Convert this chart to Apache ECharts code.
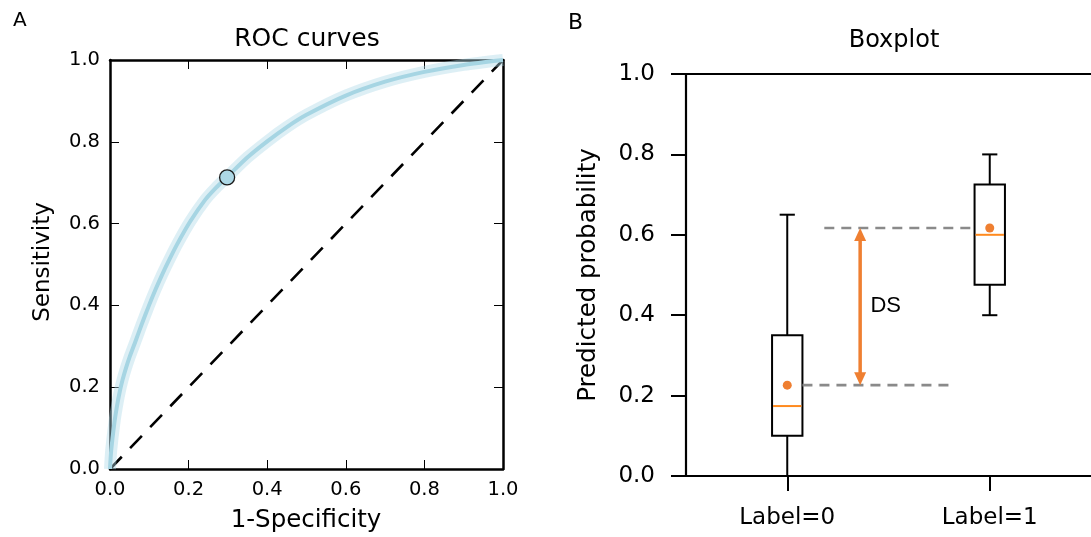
<!DOCTYPE html>
<html>
<head>
<meta charset="utf-8">
<script src="https://cdn.jsdelivr.net/npm/echarts@6/dist/echarts.min.js"></script>
<style>
html,body{margin:0;padding:0;background:#fff;}
#chart{width:1091px;height:537px;}
</style>
</head>
<body>
<div id="chart"></div>
<script>
// ---------- Panel A: ROC curve data ----------
const rocFpr = [0, 0.003, 0.011, 0.018, 0.025, 0.032, 0.04, 0.05, 0.064, 0.08, 0.098, 0.115, 0.133, 0.15, 0.17, 0.204, 0.242, 0.27, 0.298, 0.35, 0.4, 0.45, 0.5, 0.6, 0.7, 0.8, 0.9, 1.0];
const rocTpr = [0, 0.045, 0.112, 0.155, 0.19, 0.218, 0.245, 0.274, 0.31, 0.352, 0.397, 0.437, 0.476, 0.51, 0.548, 0.605, 0.658, 0.688, 0.714, 0.762, 0.801, 0.836, 0.866, 0.913, 0.947, 0.971, 0.988, 1.0];
const cutoffPoint = [0.298, 0.713];
const chanceFpr = [0, 1];
const chanceTpr = [0, 1];
const unitTicks = [0, 0.2, 0.4, 0.6, 0.8, 1.0];

// ---------- Panel B: boxplot data ----------
const boxCategories = ['Label=0', 'Label=1'];
const boxPositions = [1, 2];
const whiskerLow = [0.0, 0.40];
const q1 = [0.10, 0.476];
const median = [0.174, 0.600];
const q3 = [0.350, 0.725];
const whiskerHigh = [0.650, 0.800];
const means = [0.226, 0.617];
// DS annotation (data units of the boxplot panel)
const lowerDashSpan = [1.075, 1.805];
const upperDashSpan = [1.183, 1.925];
const dsArrowX = 1.36;
const dsText = 'DS';
const dsTextPos = [1.486, 0.423];

const FONT = 'DejaVu Sans';
const ORANGE = '#ef7f31';
const MEDIAN_ORANGE = '#ff8a1e';
const BOX_WIDTH = 0.15;

const rocData = rocFpr.map((x, i) => [x, rocTpr[i]]);
const chanceData = chanceFpr.map((x, i) => [x, chanceTpr[i]]);
const boxData = boxPositions.map((p, i) => [p, whiskerLow[i], q1[i], median[i], q3[i], whiskerHigh[i], means[i]]);

function rocAxis(extra, labelMargin) {
  return Object.assign({
    type: 'value', gridIndex: 0, min: unitTicks[0], max: unitTicks[unitTicks.length - 1], interval: 0.2,
    splitLine: {show: false},
    axisLine: {show: true, onZero: false, lineStyle: {color: '#000', width: 2.5}},
    axisTick: {show: true, inside: true, length: 9, lineStyle: {color: '#000', width: 1}},
    axisLabel: labelMargin == null ? {show: false} :
      {show: true, color: '#000', fontFamily: FONT, fontSize: 19.5, margin: labelMargin, formatter: v => v.toFixed(1)}
  }, extra);
}

const chart = echarts.init(document.getElementById('chart'), null, {renderer: 'canvas'});

const option = {
  backgroundColor: '#fff',
  animation: false,
  grid: [
    {left: 110, top: 60, width: 393, height: 409},
    {left: 686, top: 74, width: 414, height: 402}
  ],
  xAxis: [
    rocAxis({position: 'bottom'}, 11),
    rocAxis({position: 'top'}, null),
    {
      type: 'category', gridIndex: 1, data: boxCategories, position: 'bottom', boundaryGap: true,
      axisLine: {show: true, onZero: false, lineStyle: {color: '#000', width: 2.2}},
      axisTick: {show: true, alignWithLabel: true, inside: false, length: 15, lineStyle: {color: '#000', width: 2}},
      axisLabel: {color: '#000', fontFamily: FONT, fontSize: 23, margin: 31},
      splitLine: {show: false}
    },
    {
      type: 'value', gridIndex: 1, min: 0.5, max: 2.5, position: 'top',
      axisLine: {show: true, onZero: false, lineStyle: {color: '#000', width: 2.2}},
      axisTick: {show: false}, axisLabel: {show: false}, splitLine: {show: false}
    }
  ],
  yAxis: [
    rocAxis({position: 'left'}, 10),
    rocAxis({position: 'right'}, null),
    {
      type: 'value', gridIndex: 1, min: 0, max: 1, interval: 0.2, position: 'left',
      axisLine: {show: true, onZero: false, lineStyle: {color: '#000', width: 2.2}},
      axisTick: {show: true, inside: false, length: 15, lineStyle: {color: '#000', width: 2}},
      axisLabel: {color: '#000', fontFamily: FONT, fontSize: 23, margin: 31, formatter: v => v.toFixed(1)},
      splitLine: {show: false}
    }
  ],
  graphic: [
    {type: 'text', x: 13, y: 21, style: {text: 'A', font: '20px "DejaVu Sans"', fill: '#000', align: 'left', verticalAlign: 'middle'}},
    {type: 'text', x: 307, y: 39, style: {text: 'ROC curves', font: '25px "DejaVu Sans"', fill: '#000', align: 'center', verticalAlign: 'middle'}},
    {type: 'text', x: 306, y: 521, style: {text: '1-Specificity', font: '24.5px "DejaVu Sans"', fill: '#000', align: 'center', verticalAlign: 'middle'}},
    {type: 'text', x: 43, y: 262, rotation: Math.PI / 2, style: {text: 'Sensitivity', font: '23px "DejaVu Sans"', fill: '#000', align: 'center', verticalAlign: 'middle'}},
    {type: 'text', x: 568, y: 23, style: {text: 'B', font: '22px "DejaVu Sans"', fill: '#000', align: 'left', verticalAlign: 'middle'}},
    {type: 'text', x: 894, y: 41, style: {text: 'Boxplot', font: '24px "DejaVu Sans"', fill: '#000', align: 'center', verticalAlign: 'middle'}},
    {type: 'text', x: 589, y: 275, rotation: Math.PI / 2, style: {text: 'Predicted probability', font: '24.5px "DejaVu Sans"', fill: '#000', align: 'center', verticalAlign: 'middle'}}
  ],
  series: [
    {
      name: 'chance', type: 'line', xAxisIndex: 0, yAxisIndex: 0, data: chanceData,
      showSymbol: false, silent: true,
      lineStyle: {color: '#000', width: 2.6, type: [17, 12]}
    },
    {
      name: 'roc band', type: 'line', xAxisIndex: 0, yAxisIndex: 0, data: rocData,
      showSymbol: false, silent: true, smooth: 0.25,
      lineStyle: {color: '#add8e6', width: 12, opacity: 0.42, join: 'round'}
    },
    {
      name: 'roc', type: 'line', xAxisIndex: 0, yAxisIndex: 0, data: rocData,
      showSymbol: false, silent: true, smooth: 0.25,
      lineStyle: {color: '#a6d5e3', width: 4, join: 'round'}
    },
    {
      name: 'cutoff', type: 'scatter', xAxisIndex: 0, yAxisIndex: 0, data: [cutoffPoint],
      symbolSize: 15, z: 5,
      itemStyle: {color: '#add8e6', borderColor: '#1a1a1a', borderWidth: 1.3, opacity: 1}
    },
    {
      name: 'boxes', type: 'custom', xAxisIndex: 3, yAxisIndex: 2, data: boxData,
      encode: {x: 0, y: [1, 2, 3, 4, 5, 6]},
      silent: true,
      renderItem: function (params, api) {
        const x = api.value(0);
        const cx = api.coord([x, 0])[0];
        const xl = api.coord([x - BOX_WIDTH / 2, 0])[0];
        const xr = api.coord([x + BOX_WIDTH / 2, 0])[0];
        const cl = api.coord([x - BOX_WIDTH / 4, 0])[0];
        const cr = api.coord([x + BOX_WIDTH / 4, 0])[0];
        const yv = i => api.coord([x, api.value(i)])[1];
        const yLo = yv(1), yQ1 = yv(2), yMed = yv(3), yQ3 = yv(4), yHi = yv(5), yMean = yv(6);
        const st = {stroke: '#000', lineWidth: 2, fill: null};
        return {
          type: 'group',
          children: [
            {type: 'line', shape: {x1: cx, y1: yLo, x2: cx, y2: yQ1}, style: st},
            {type: 'line', shape: {x1: cx, y1: yQ3, x2: cx, y2: yHi}, style: st},
            {type: 'line', shape: {x1: cl, y1: yLo, x2: cr, y2: yLo}, style: st},
            {type: 'line', shape: {x1: cl, y1: yHi, x2: cr, y2: yHi}, style: st},
            {type: 'rect', shape: {x: xl, y: yQ3, width: xr - xl, height: yQ1 - yQ3}, style: {stroke: '#000', lineWidth: 2, fill: 'rgba(0,0,0,0)'}},
            {type: 'line', shape: {x1: xl + 1, y1: yMed, x2: xr - 1, y2: yMed}, style: {stroke: MEDIAN_ORANGE, lineWidth: 2}},
            {type: 'circle', shape: {cx: cx, cy: yMean, r: 4.5}, style: {fill: ORANGE}}
          ]
        };
      }
    },
    {
      name: 'ds annotation', type: 'custom', xAxisIndex: 3, yAxisIndex: 2, data: [[dsArrowX, means[0], means[1]]],
      silent: true, z: 3,
      renderItem: function (params, api) {
        const dash = {stroke: '#8a8a8a', lineWidth: 2.6, lineDash: [10, 7]};
        const lo0 = api.coord([lowerDashSpan[0], means[0]]);
        const lo1 = api.coord([lowerDashSpan[1], means[0]]);
        const up0 = api.coord([upperDashSpan[0], means[1]]);
        const up1 = api.coord([upperDashSpan[1], means[1]]);
        const aLo = api.coord([api.value(0), api.value(1)]);
        const aHi = api.coord([api.value(0), api.value(2)]);
        const t = api.coord(dsTextPos);
        const hw = 6, hl = 13;
        return {
          type: 'group',
          children: [
            {type: 'line', shape: {x1: lo0[0], y1: lo0[1], x2: lo1[0], y2: lo1[1]}, style: dash},
            {type: 'line', shape: {x1: up0[0], y1: up0[1], x2: up1[0], y2: up1[1]}, style: dash},
            {type: 'line', shape: {x1: aLo[0], y1: aLo[1] - hl + 1, x2: aHi[0], y2: aHi[1] + hl - 1}, style: {stroke: ORANGE, lineWidth: 3.5}},
            {type: 'polygon', shape: {points: [[aHi[0], aHi[1]], [aHi[0] - hw, aHi[1] + hl], [aHi[0] + hw, aHi[1] + hl]]}, style: {fill: ORANGE}},
            {type: 'polygon', shape: {points: [[aLo[0], aLo[1]], [aLo[0] - hw, aLo[1] - hl], [aLo[0] + hw, aLo[1] - hl]]}, style: {fill: ORANGE}},
            {type: 'text', x: t[0], y: t[1], style: {text: dsText, font: '22px "Liberation Sans"', fill: '#000', align: 'center', verticalAlign: 'middle'}}
          ]
        };
      }
    }
  ]
};

chart.setOption(option);
</script>
</body>
</html>
